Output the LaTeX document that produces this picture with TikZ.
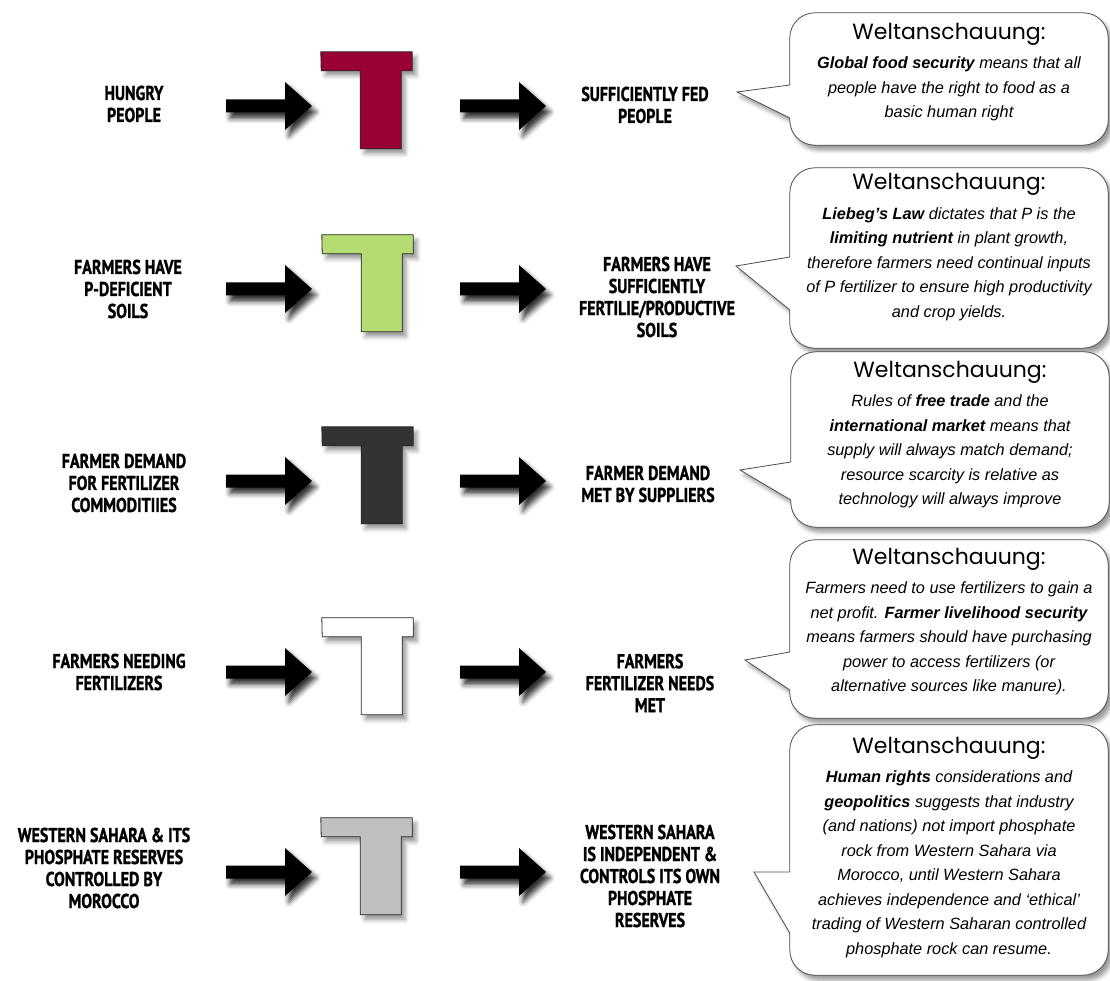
\documentclass[tikz,border=0pt]{standalone}
\usepackage{fontspec}
\setsansfont{Liberation Sans}
\newfontfamily\comicfont[FakeStretch=0.8, BoldFeatures={FakeBold=1.2}]{PT Sans}
\newfontfamily\headfont{Poppins}
\usetikzlibrary{shadows.blur}

\definecolor{teered}{HTML}{990033}
\definecolor{teegreen}{HTML}{B4DC72}
\definecolor{teedark}{HTML}{333333}
\definecolor{teegray}{HTML}{C0C0C0}

% T-shaped bar inside the box node #1
\newcommand{\drawtee}[2]{%
  \draw[tee, fill=#2] (#1.north west) -- (#1.north east) -- ++(0,19) -- ++(-11,0)
    -- ++(0,78) -- ++(-41,0) -- ++(0,-78) -- ++(-39,0) -- cycle;}
% block arrow from #1 to #2
\newcommand{\drawarrow}[2]{%
  \fill[fatarrow] ([shift={(0,-6.5)}]#1) -- ([shift={(-27,-6.5)}]#2) -- ([shift={(-27,-24)}]#2)
    -- (#2) -- ([shift={(-27,24)}]#2) -- ([shift={(-27,6.5)}]#2) -- ([shift={(0,6.5)}]#1) -- cycle;}
% speech bubble round box #1, pointing to #2, tail between #3 and #4
\newcommand{\drawbubble}[4]{%
  \draw[bubble] (#1.west |- #3) [rounded corners=25pt] -- (#1.north west) -- (#1.north east)
    -- (#1.south east) -- (#1.south west) [sharp corners] -- (#1.west |- #4) -- (#2) -- cycle;}
\newcommand{\weltan}{{\headfont\upshape\fontsize{22}{26}\selectfont Weltanschauung:}\\[5pt]}

\begin{document}
\begin{tikzpicture}[x=1pt, y=-1pt,
        tbox/.style={minimum width=91pt, minimum height=97pt, inner sep=0pt},
        tee/.style={draw=black!85, line width=0.8pt, blur shadow={shadow xshift=4pt, shadow yshift=-5pt, shadow blur radius=4pt}},
        lab/.style={align=center, inner sep=0pt, font=\comicfont\bfseries\fontsize{20}{22}\selectfont},
        fatarrow/.style={fill=black, blur shadow={shadow xshift=4pt, shadow yshift=-6pt, shadow blur radius=5pt, shadow opacity=80}},
        bubblebox/.style={minimum width=318pt, inner sep=0pt},
        bubble/.style={draw=black!70, line width=0.8pt, fill=white, blur shadow={shadow xshift=4pt, shadow yshift=-5pt, shadow blur radius=4pt}},
        bubbletext/.style={align=center, inner sep=0pt, font=\sffamily\itshape\fontsize{16.3}{24.5}\selectfont}
    ]
    \useasboundingbox (0,0) rectangle (1110,981);

    % row 1
    \node[lab] (l1) at (134,104) {HUNGRY\\PEOPLE};
    \node[tbox] (t1) at (366.5,100.5) {};
    \drawtee{t1}{teered}
    \node[lab] (r1) at (645,105) {SUFFICIENTLY FED\\PEOPLE};
    \coordinate (a1) at (226,106);
    \coordinate (b1) at (312,106);
    \coordinate (c1) at (460,106);
    \coordinate (e1) at (546,106);
    \drawarrow{a1}{b1}
    \drawarrow{c1}{e1}
    \node[bubblebox, minimum height=132pt] (w1) at (949,79) {};
    \coordinate (k1) at (737,92);
    \coordinate (u1) at (790,85);
    \coordinate (d1) at (790,118);
    \drawbubble{w1}{k1}{u1}{d1}
    \node[bubbletext] (w1txt) at (949,72) {\weltan
        \textbf{Global food security} means that all\\
        people have the right to food as a\\
        basic human right};

    % row 2
    \node[lab] (l2) at (128,289) {FARMERS HAVE\\P-DEFICIENT\\SOILS};
    \node[tbox] (t2) at (367.5,283.5) {};
    \drawtee{t2}{teegreen}
    \node[lab] (r2) at (657,297) {FARMERS HAVE\\SUFFICIENTLY\\FERTILIE/PRODUCTIVE\\SOILS};
    \coordinate (a2) at (226,289);
    \coordinate (b2) at (312,289);
    \coordinate (c2) at (460,289);
    \coordinate (e2) at (546,289);
    \drawarrow{a2}{b2}
    \drawarrow{c2}{e2}
    \node[bubblebox, minimum height=180pt] (w2) at (949,258) {};
    \coordinate (k2) at (736,266);
    \coordinate (u2) at (790,257);
    \coordinate (d2) at (790,310);
    \drawbubble{w2}{k2}{u2}{d2}
    \node[bubbletext] (w2txt) at (949,247) {\weltan
        \textbf{Liebeg’s Law} dictates that P is the\\
        \textbf{limiting nutrient} in plant growth,\\
        therefore farmers need continual inputs\\
        of P fertilizer to ensure high productivity\\
        and crop yields.};

    % row 3
    \node[lab] (l3) at (124,483) {FARMER DEMAND\\FOR FERTILIZER\\COMMODITIIES};
    \node[tbox] (t3) at (367.5,475.5) {};
    \drawtee{t3}{teedark}
    \node[lab] (r3) at (648,484) {FARMER DEMAND\\MET BY SUPPLIERS};
    \coordinate (a3) at (226,481);
    \coordinate (b3) at (312,481);
    \coordinate (c3) at (460,481);
    \coordinate (e3) at (546,481);
    \drawarrow{a3}{b3}
    \drawarrow{c3}{e3}
    \node[bubblebox, minimum height=175pt] (w3) at (950,439.5) {};
    \coordinate (k3) at (740,470);
    \coordinate (u3) at (792,462);
    \coordinate (d3) at (792,500);
    \drawbubble{w3}{k3}{u3}{d3}
    \node[bubbletext] (w3txt) at (950,434.5) {\weltan
        Rules of \textbf{free trade} and the\\
        \textbf{international market} means that\\
        supply will always match demand;\\
        resource scarcity is relative as\\
        technology will always improve};

    % row 4
    \node[lab] (l4) at (119,672) {FARMERS NEEDING\\FERTILIZERS};
    \node[tbox] (t4) at (367.5,666.5) {};
    \drawtee{t4}{white}
    \node[lab] (r4) at (650,683) {FARMERS\\FERTILIZER NEEDS\\MET};
    \coordinate (a4) at (226,672);
    \coordinate (b4) at (312,672);
    \coordinate (c4) at (460,672);
    \coordinate (e4) at (546,672);
    \drawarrow{a4}{b4}
    \drawarrow{c4}{e4}
    \node[bubblebox, minimum height=178pt] (w4) at (949,629) {};
    \coordinate (k4) at (745,660);
    \coordinate (u4) at (790,652);
    \coordinate (d4) at (790,690);
    \drawbubble{w4}{k4}{u4}{d4}
    \node[bubbletext] (w4txt) at (949,621.5) {\weltan
        Farmers need to use fertilizers to gain a\\
        net profit. \textbf{Farmer livelihood security}\\
        means farmers should have purchasing\\
        power to access fertilizers (or\\
        alternative sources like manure).};

    % row 5
    \node[lab] (l5) at (104,868) {WESTERN SAHARA \& ITS\\PHOSPHATE RESERVES\\CONTROLLED BY\\MOROCCO};
    \node[tbox] (t5) at (366.5,866.5) {};
    \drawtee{t5}{teegray}
    \node[lab] (r5) at (650,876) {WESTERN SAHARA\\IS INDEPENDENT \&\\CONTROLS ITS OWN\\PHOSPHATE\\RESERVES};
    \coordinate (a5) at (226,872);
    \coordinate (b5) at (312,872);
    \coordinate (c5) at (460,872);
    \coordinate (e5) at (546,872);
    \drawarrow{a5}{b5}
    \drawarrow{c5}{e5}
    \node[bubblebox, minimum height=250pt] (w5) at (949,850) {};
    \coordinate (k5) at (754,872);
    \coordinate (u5) at (790,872);
    \coordinate (d5) at (790,933);
    \drawbubble{w5}{k5}{u5}{d5}
    \node[bubbletext] (w5txt) at (949,847.5) {\weltan
        \textbf{Human rights} considerations and\\
        \textbf{geopolitics} suggests that industry\\
        (and nations) not import phosphate\\
        rock from Western Sahara via\\
        Morocco, until Western Sahara\\
        achieves independence and ‘ethical’\\
        trading of Western Saharan controlled\\
        phosphate rock can resume.};
\end{tikzpicture}
\end{document}
